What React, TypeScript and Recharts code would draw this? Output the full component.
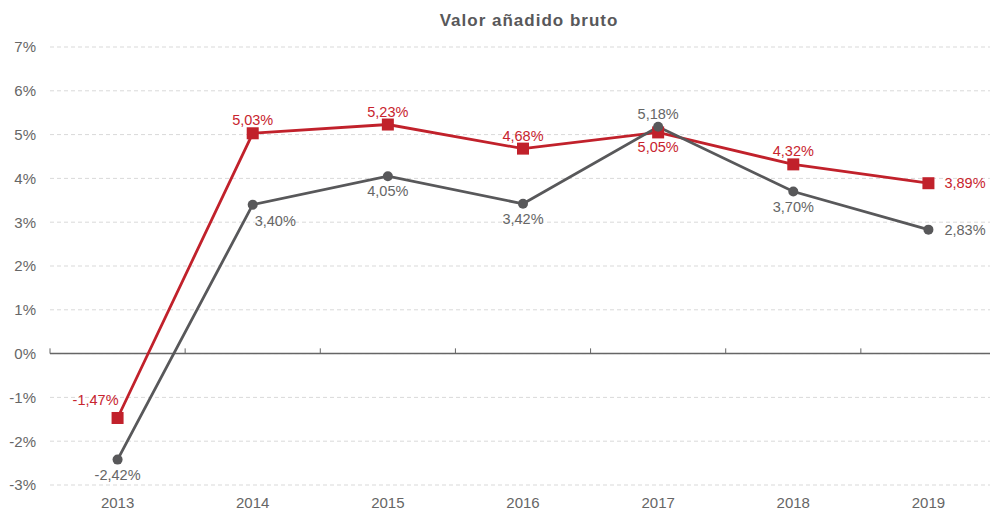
import {
  LineChart,
  Line,
  XAxis,
  YAxis,
  CartesianGrid,
  ReferenceLine,
  LabelList,
} from "recharts";

const years = ["2013", "2014", "2015", "2016", "2017", "2018", "2019"];
const redValues = [-1.47, 5.03, 5.23, 4.68, 5.05, 4.32, 3.89];
const grayValues = [-2.42, 3.4, 4.05, 3.42, 5.18, 3.7, 2.83];
const yTicks = [-3, -2, -1, 0, 1, 2, 3, 4, 5, 6, 7];

// where each data label sits relative to its point
const redLabelSide = ["left", "top", "top", "top", "bottom", "top", "right"];
const grayLabelSide = ["bottom", "rightBottom", "bottom", "bottom", "top", "bottom", "right"];

const RED = "#c1212b";
const GRAY = "#58585a";
const FONT = "'Liberation Sans', Arial, sans-serif";

const data = years.map((y, i) => ({
  idx: i,
  year: y,
  red: redValues[i],
  gray: grayValues[i],
}));

const boundaries = years.map((_, i) => i - 0.5);

const fmt = (v: number) => v.toFixed(2).replace(".", ",") + "%";

function makeLabel(sides: string[], color: string) {
  return (props: any) => {
    const { x, y, value, index } = props;
    const side = sides[index];
    let tx = x;
    let ty = y;
    let anchor: "middle" | "start" | "end" = "middle";
    if (side === "top") ty = y - 13;
    else if (side === "bottom") ty = y + 15;
    else if (side === "left") {
      tx = x + 1;
      ty = y - 18;
      anchor = "end";
    } else if (side === "right") {
      tx = x + 16;
      anchor = "start";
    } else if (side === "rightBottom") {
      tx = x + 2;
      ty = y + 16;
      anchor = "start";
    }
    return (
      <text
        x={tx}
        y={ty}
        dy="0.35em"
        textAnchor={anchor}
        fill={color}
        fontSize={14.5}
        fontFamily={FONT}
      >
        {fmt(value)}
      </text>
    );
  };
}

const SquareDot = (props: any) => {
  const { cx, cy, index } = props;
  return <rect key={"sq" + index} x={cx - 6} y={cy - 6} width={12} height={12} fill={RED} />;
};

export default function App() {
  return (
    <div
      style={{
        position: "absolute",
        left: 0,
        top: 0,
        width: 990,
        height: 513,
        overflow: "hidden",
        background: "#fff",
      }}
    >
      <div
        style={{
          position: "absolute",
          top: 11,
          left: 56,
          width: 946,
          textAlign: "center",
          fontFamily: FONT,
          fontWeight: "bold",
          fontSize: 17,
          letterSpacing: 1,
          color: GRAY,
        }}
      >
        Valor añadido bruto
      </div>
      <LineChart
        width={996}
        height={513}
        data={data}
        margin={{ top: 47, right: 0, left: 0, bottom: 0 }}
      >
        <CartesianGrid vertical={false} stroke="#d9d9d9" strokeDasharray="4 3" />
        <XAxis
          dataKey="idx"
          type="number"
          domain={[-0.5, 6.5]}
          ticks={years.map((_, i) => i)}
          tickFormatter={(i: number) => years[i]}
          axisLine={false}
          tickLine={false}
          height={28}
          tickMargin={6}
          tick={{ fill: "#666", fontSize: 15, fontFamily: FONT }}
        />
        <YAxis
          domain={[-3, 7]}
          ticks={yTicks}
          tickFormatter={(v: number) => v + "%"}
          axisLine={false}
          tickLine={false}
          width={50}
          tickMargin={8}
          tick={{ fill: "#666", fontSize: 15, fontFamily: FONT }}
        />
        <ReferenceLine y={0} stroke="#666" strokeWidth={1.5} />
        {boundaries.map((b) => (
          <ReferenceLine
            key={b}
            segment={[
              { x: b, y: 0 },
              { x: b, y: 0.12 },
            ]}
            stroke="#666"
            strokeWidth={1}
          />
        ))}
        <Line
          dataKey="red"
          stroke={RED}
          strokeWidth={2.8}
          dot={SquareDot}
          isAnimationActive={false}
        >
          <LabelList dataKey="red" content={makeLabel(redLabelSide, "#c8242e")} />
        </Line>
        <Line
          dataKey="gray"
          stroke={GRAY}
          strokeWidth={2.8}
          dot={{ r: 5, fill: GRAY, stroke: GRAY, strokeWidth: 0 }}
          isAnimationActive={false}
        >
          <LabelList dataKey="gray" content={makeLabel(grayLabelSide, "#666")} />
        </Line>
      </LineChart>
    </div>
  );
}
